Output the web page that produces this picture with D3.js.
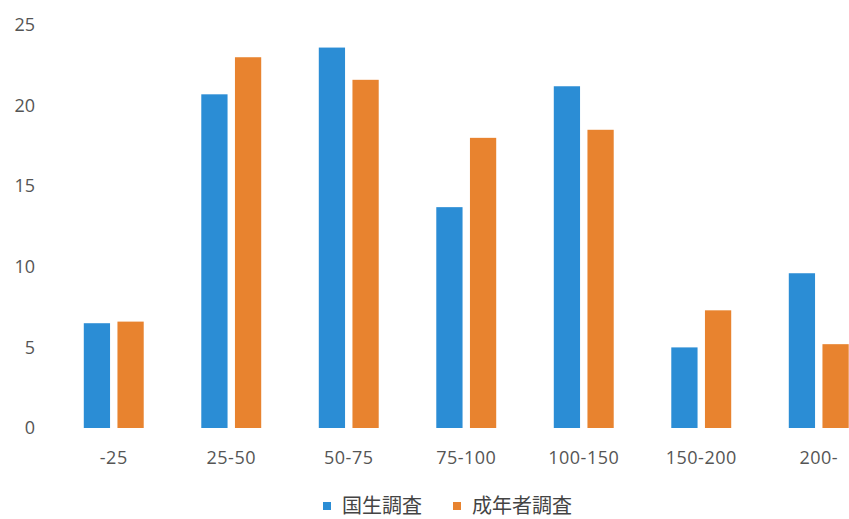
<!DOCTYPE html>
<html>
<head>
<meta charset="utf-8">
<script src="https://cdn.jsdelivr.net/npm/d3@7"></script>
<style>
  body { margin: 0; background: #fff; }
  svg { display: block; overflow: hidden; }
</style>
</head>
<body>
<svg id="chart" width="849" height="519"></svg>
<script>
// Data
const categories = ['-25', '25-50', '50-75', '75-100', '100-150', '150-200', '200-'];
const seriesNames = ['国生調査', '成年者調査'];
const kokusei = [6.5, 20.7, 23.6, 13.7, 21.2, 5.0, 9.6];
const seinensha = [6.6, 23.0, 21.6, 18.0, 18.5, 7.3, 5.2];
const yTicks = [0, 5, 10, 15, 20, 25];

const colors = ['#2b8dd5', '#e8832f'];
const textColor = '#555';

const svg = d3.select('#chart');

// The plot runs past the right edge of the picture (last group is cut)
const x0 = d3.scaleBand()
    .domain(categories)
    .range([55, 877.5])
    .paddingInner(0.49)
    .paddingOuter(0.245);

const x1 = d3.scaleBand()
    .domain(seriesNames)
    .range([0, x0.bandwidth()])
    .paddingInner(0.22);

const y = d3.scaleLinear()
    .domain([0, 25])
    .range([428, 25]);

const values = [kokusei, seinensha];

// Bars
const groups = svg.append('g').attr('class', 'bars')
    .selectAll('g')
    .data(categories)
    .join('g')
    .attr('transform', d => `translate(${x0(d)},0)`);

groups.selectAll('rect')
    .data((d, i) => seriesNames.map((s, j) => ({ series: s, idx: j, value: values[j][i] })))
    .join('rect')
    .attr('x', d => x1(d.series))
    .attr('width', x1.bandwidth())
    .attr('y', d => y(d.value))
    .attr('height', d => y(0) - y(d.value))
    .attr('fill', d => colors[d.idx]);

// Y axis (labels only)
const yAxis = svg.append('g')
    .attr('transform', 'translate(35,0)')
    .call(d3.axisLeft(y).tickValues(yTicks).tickSize(0).tickPadding(0));
yAxis.select('.domain').remove();
yAxis.selectAll('text')
    .attr('fill', textColor)
    .attr('font-family', '"Open Sans", sans-serif')
    .attr('font-size', '18px');

// X axis (labels only)
const xAxis = svg.append('g')
    .attr('transform', 'translate(0,451)')
    .call(d3.axisBottom(x0).tickSize(0).tickPadding(0));
xAxis.select('.domain').remove();
xAxis.selectAll('text')
    .attr('fill', textColor)
    .attr('font-family', '"Open Sans", sans-serif')
    .attr('font-size', '18px')
    .attr('letter-spacing', '0.5px');

// Legend
const legendItems = [
    { name: seriesNames[0], color: colors[0], x: 323 },
    { name: seriesNames[1], color: colors[1], x: 453 }
];
const legend = svg.append('g').attr('class', 'legend')
    .selectAll('g')
    .data(legendItems)
    .join('g')
    .attr('transform', d => `translate(${d.x},506)`);

legend.append('rect')
    .attr('x', 0)
    .attr('y', -4)
    .attr('width', 8)
    .attr('height', 8)
    .attr('fill', d => d.color);

legend.append('text')
    .attr('x', 19)
    .attr('dy', '0.35em')
    .attr('fill', '#444')
    .attr('font-family', '"Noto Sans CJK JP", sans-serif')
    .attr('font-size', '20px')
    .text(d => d.name);
</script>
</body>
</html>
